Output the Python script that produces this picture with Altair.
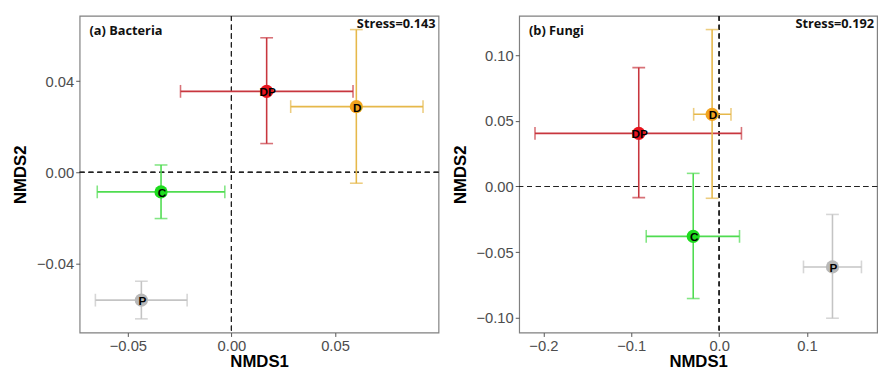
import altair as alt
import pandas as pd

groups = ["DP", "D", "C", "P"]

# Bacteria (a)
bac_x = [0.017, 0.0603, -0.034, -0.0435]
bac_y = [0.0355, 0.0288, -0.0086, -0.0561]
bac_xlo = [-0.0246, 0.0286, -0.0648, -0.0657]
bac_xhi = [0.0587, 0.0925, -0.0032, -0.0214]
bac_ylo = [0.0126, -0.0048, -0.0203, -0.0643]
bac_yhi = [0.0590, 0.0626, 0.0032, -0.0478]

# Fungi (b)
fun_x = [-0.0915, -0.0080, -0.0295, 0.129]
fun_y = [0.0405, 0.0550, -0.0380, -0.0613]
fun_xlo = [-0.2096, -0.0290, -0.0830, 0.0960]
fun_xhi = [0.0254, 0.0135, 0.0232, 0.1620]
fun_ylo = [-0.0085, -0.0090, -0.0854, -0.1004]
fun_yhi = [0.0906, 0.1196, 0.0100, -0.0213]

line_colors = ["#c8363e", "#e6b84a", "#4fdc50", "#c4c4c4"]
point_colors = ["#e8141e", "#f2a41e", "#1edc1e", "#b8b8b8"]


def panel(xs, ys, xlo, xhi, ylo, yhi, xdom, ydom, xticks, yticks, xfmt, yfmt,
          tag, stress, w, h):
    df = pd.DataFrame({"group": groups, "x": xs, "y": ys,
                       "xlo": xlo, "xhi": xhi, "ylo": ylo, "yhi": yhi})
    base = alt.Chart(df)
    xs_ = alt.Scale(domain=xdom, nice=False, zero=False)
    ys_ = alt.Scale(domain=ydom, nice=False, zero=False)
    xax = alt.Axis(values=xticks, format=xfmt, title="NMDS1", titlePadding=1)
    yax = alt.Axis(values=yticks, format=yfmt, title="NMDS2", titlePadding=7)
    lc = alt.Color("group:N", scale=alt.Scale(domain=groups, range=line_colors), legend=None)
    pc = alt.Color("group:N", scale=alt.Scale(domain=groups, range=point_colors), legend=None)

    hz = base.mark_rule(color="#222222", strokeDash=[5, 4], strokeWidth=1.1).encode(
        y=alt.datum(0, scale=ys_, axis=yax, type="quantitative"))
    vt = base.mark_rule(color="#222222", strokeDash=[5, 4], strokeWidth=1.1).encode(
        x=alt.datum(0, scale=xs_, axis=xax, type="quantitative"))
    hbar = base.mark_rule(strokeWidth=1.6).encode(
        x=alt.X("xlo:Q", scale=xs_, axis=xax), x2="xhi:Q", y=alt.Y("y:Q", scale=ys_, axis=yax), color=lc)
    vbar = base.mark_rule(strokeWidth=1.6).encode(
        y=alt.Y("ylo:Q", scale=ys_, axis=yax), y2="yhi:Q", x=alt.X("x:Q", scale=xs_, axis=xax), color=lc)
    cap_xlo = base.mark_tick(orient="vertical", size=13, thickness=1.6).encode(
        x=alt.X("xlo:Q", scale=xs_, axis=xax), y=alt.Y("y:Q", scale=ys_, axis=yax), color=lc)
    cap_xhi = base.mark_tick(orient="vertical", size=13, thickness=1.6).encode(
        x=alt.X("xhi:Q", scale=xs_, axis=xax), y=alt.Y("y:Q", scale=ys_, axis=yax), color=lc)
    cap_ylo = base.mark_tick(orient="horizontal", size=13, thickness=1.6).encode(
        x=alt.X("x:Q", scale=xs_, axis=xax), y=alt.Y("ylo:Q", scale=ys_, axis=yax), color=lc)
    cap_yhi = base.mark_tick(orient="horizontal", size=13, thickness=1.6).encode(
        x=alt.X("x:Q", scale=xs_, axis=xax), y=alt.Y("yhi:Q", scale=ys_, axis=yax), color=lc)
    pts = base.mark_circle(size=180, opacity=1).encode(
        x=alt.X("x:Q", scale=xs_, axis=xax), y=alt.Y("y:Q", scale=ys_, axis=yax), color=pc)
    lbl = base.mark_text(font="Liberation Sans", fontWeight="bold", fontSize=12,
                         color="black", dx=1, dy=1).encode(
        x=alt.X("x:Q", scale=xs_, axis=xax), y=alt.Y("y:Q", scale=ys_, axis=yax), text="group:N")
    tag_t = alt.Chart(pd.DataFrame({"t": [tag]})).mark_text(
        font="Open Sans", fontWeight="bold", fontSize=13, align="left", baseline="middle",
        color="#111111").encode(x=alt.value(10), y=alt.value(15), text="t:N")
    st_t = alt.Chart(pd.DataFrame({"t": [stress]})).mark_text(
        font="Open Sans", fontWeight="bold", fontSize=13, align="right", baseline="middle",
        color="#111111").encode(x=alt.value(w - 3), y=alt.value(8), text="t:N")
    return alt.layer(hz, vt, hbar, vbar, cap_xlo, cap_xhi, cap_ylo, cap_yhi, pts, lbl,
                     tag_t, st_t).resolve_scale(color="independent").properties(width=w, height=h)


left = panel(bac_x, bac_y, bac_xlo, bac_xhi, bac_ylo, bac_yhi,
             [-0.0733, 0.1], [-0.0703, 0.0686], [-0.05, 0.0, 0.05], [-0.04, 0.0, 0.04],
             ".2f", ".2f", "(a)  Bacteria", "Stress=0.143", 365, 322)
right = panel(fun_x, fun_y, fun_xlo, fun_xhi, fun_ylo, fun_yhi,
              [-0.2276, 0.1798], [-0.1113, 0.130], [-0.2, -0.1, 0.0, 0.1],
              [-0.1, -0.05, 0.0, 0.05, 0.1], ".1f", ".2f", "(b)  Fungi", "Stress=0.192", 364, 322)

chart = alt.hconcat(left, right, spacing=10).properties(
    padding={"left": 11, "top": 11, "right": 4, "bottom": 0},
    background="white",
).configure_view(stroke="#808080", strokeWidth=1.2).configure_axis(
    domain=False, grid=False, tickColor="#555555", tickSize=4, labelPadding=2,
    labelFont="Liberation Sans", labelFontSize=15, labelColor="#4d4d4d",
    titleFont="Liberation Sans", titleFontSize=17, titleFontWeight="bold", titleColor="black",
)

chart.save("out.html", embed_options={"renderer": "svg", "actions": False})
